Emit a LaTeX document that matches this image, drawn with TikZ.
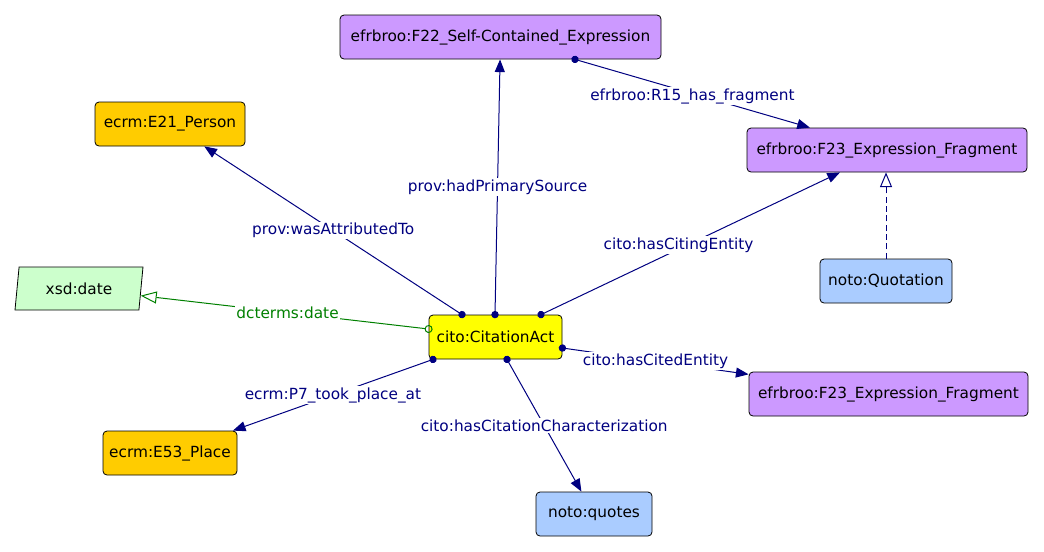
\documentclass[tikz,border=0pt]{standalone}
\usepackage{fontspec}
\setmainfont{DejaVu Sans}
\usetikzlibrary{arrows.meta,shapes.geometric,calc}
\definecolor{navy}{HTML}{000080}
\definecolor{dgreen}{HTML}{008000}
\definecolor{lpurple}{HTML}{CC99FF}
\definecolor{lorange}{HTML}{FFCC00}
\definecolor{lyellow}{HTML}{FFFF00}
\definecolor{lblue}{HTML}{AACCFF}
\definecolor{lgreen}{HTML}{CCFFCC}
\begin{document}
\begin{tikzpicture}[x=0.75pt,y=-0.75pt,
  every node/.style={font=\fontsize{11.5}{13}\selectfont},
  cls/.style={draw=black,line width=0.6pt,rounded corners=3pt,minimum height=33pt,inner sep=0pt,align=center},
  rel/.style={draw=navy,line width=0.75pt,{Circle[length=5.5pt]}-{Triangle[length=9.5pt,width=7.5pt]},shorten <=-2.75pt},
  lbl/.style={fill=white,inner sep=1pt,text=navy},
]
\useasboundingbox (0,0) rectangle (1044,551);

% nodes
\node[cls,fill=lpurple,minimum width=240.75pt] (f22) at (500.5,37) {efrbroo:F22\_Self-Contained\_Expression};
\node[cls,fill=lorange,minimum width=112.5pt] (person) at (170,124) {ecrm:E21\_Person};
\node[cls,fill=lpurple,minimum width=210pt] (f23a) at (887,150) {efrbroo:F23\_Expression\_Fragment};
\node[cls,fill=lblue,minimum width=99pt] (quot) at (886,281) {noto:Quotation};
\node[draw=black,line width=0.6pt,fill=lgreen,trapezium,trapezium left angle=71,trapezium right angle=109,
      trapezium stretches body,minimum width=96pt,minimum height=32.25pt,inner sep=0pt] (xsd) at (79,288.5) {xsd:date};
\node[cls,fill=lyellow,minimum width=99.75pt] (cite) at (495.5,337) {cito:CitationAct};
\node[cls,fill=lpurple,minimum width=209.25pt] (f23b) at (888.5,394) {efrbroo:F23\_Expression\_Fragment};
\node[cls,fill=lorange,minimum width=100.5pt] (place) at (170,453) {ecrm:E53\_Place};
\node[cls,fill=lblue,minimum width=87pt] (quotes) at (594,514) {noto:quotes};

% connectors
\draw[rel] ($(cite.north)+(-33.5,0)$) -- node[lbl,pos=.5]{prov:wasAttributedTo} (person);
\draw[rel] ($(cite.north)+(-0.5,0)$) -- node[lbl,pos=.5]{prov:hadPrimarySource} (f22);
\draw[rel] ($(cite.north)+(45.5,0)$) -- node[lbl,pos=.46,yshift=3pt]{cito:hasCitingEntity} (f23a);
\draw[rel] ($(f22.south)+(74.5,0)$) -- node[lbl,pos=.5,yshift=-2pt]{efrbroo:R15\_has\_fragment} (f23a);
\draw[draw=navy,line width=0.75pt,dash pattern=on 4.5pt off 2.5pt,-{Triangle[open,length=11pt,width=9pt]}]
  (quot.north) -- (quot.north |- f23a.south);
\draw[draw=dgreen,line width=0.75pt,{Circle[open,length=6pt]}-{Triangle[open,length=12pt,width=9pt]},shorten <=-3pt]
  ($(cite.west)+(0,-8)$) -- node[lbl,text=dgreen,pos=.49]{dcterms:date} (xsd);
\draw[rel] ($(cite.east)+(0,11)$) -- node[lbl,pos=.5]{cito:hasCitedEntity} (f23b);
\draw[rel] ($(cite.south)+(-62.5,0)$) -- node[lbl,pos=.5]{ecrm:P7\_took\_place\_at} (place);
\draw[rel] ($(cite.south)+(11.5,0)$) -- node[lbl,pos=.5]{cito:hasCitationCharacterization} (quotes);
\end{tikzpicture}
\end{document}
